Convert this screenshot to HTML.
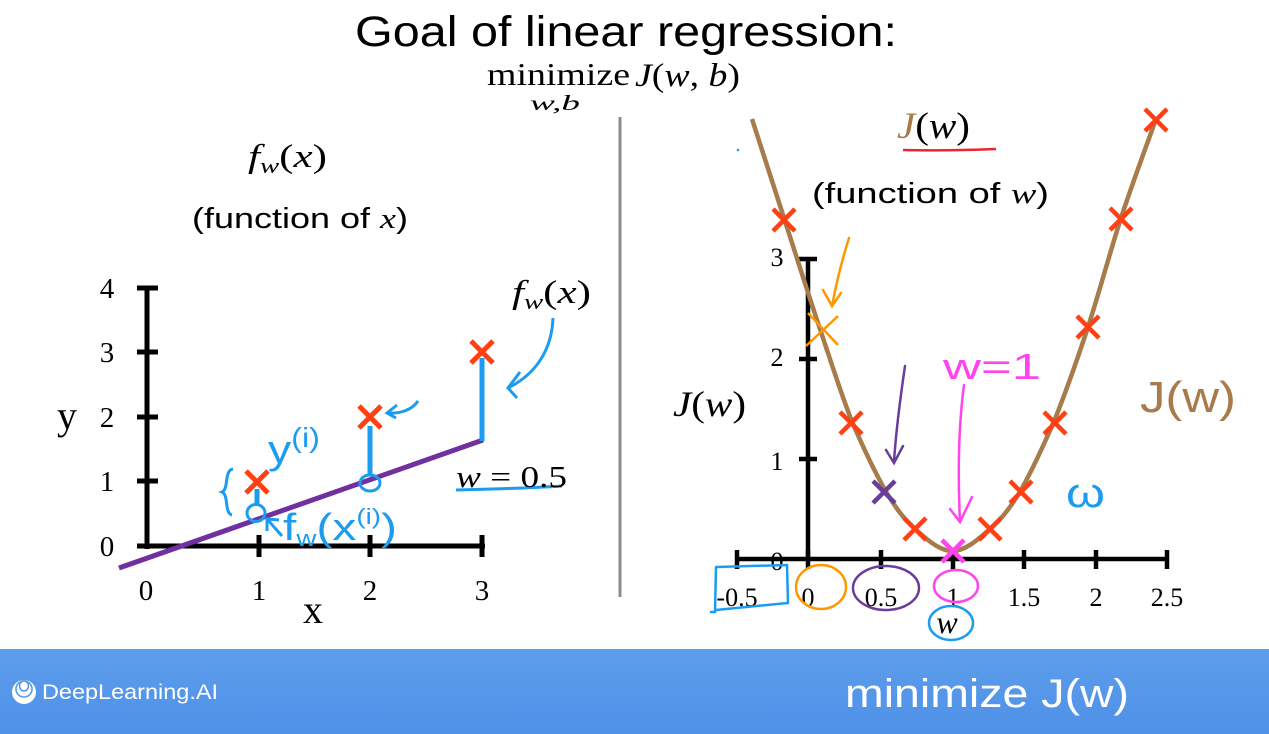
<!DOCTYPE html>
<html>
<head>
<meta charset="utf-8">
<style>
  html,body{margin:0;padding:0;background:#fff;}
  svg{display:block;}
  .serif{font-family:"Liberation Serif","DejaVu Serif",serif;}
  .sans{font-family:"Liberation Sans","DejaVu Sans",sans-serif;}
</style>
</head>
<body>
<svg width="1269" height="734" viewBox="0 0 1269 734" xmlns="http://www.w3.org/2000/svg">
  <defs>
    <linearGradient id="bn" x1="0" y1="0" x2="0" y2="1">
      <stop offset="0" stop-color="#5d9deb"/>
      <stop offset="1" stop-color="#4f91e8"/>
    </linearGradient>
  </defs>
  <rect x="0" y="0" width="1269" height="734" fill="#fff"/>

  <!-- Title -->
  <text x="355" y="46" class="sans" font-size="43" fill="#000" textLength="542" lengthAdjust="spacingAndGlyphs">Goal of linear regression:</text>
  <text x="487" y="85" class="serif" font-size="32" fill="#000" textLength="143" lengthAdjust="spacingAndGlyphs">minimize</text>
  <text x="635" y="86" class="serif" font-size="33" fill="#000" textLength="105" lengthAdjust="spacingAndGlyphs"><tspan font-style="italic">J</tspan>(<tspan font-style="italic">w</tspan>, <tspan font-style="italic">b</tspan>)</text>
  <text x="530" y="110" class="serif" font-size="21" font-style="italic" fill="#000" textLength="50" lengthAdjust="spacingAndGlyphs">w,b</text>

  <!-- Divider -->
  <line x1="620" y1="117" x2="620" y2="597" stroke="#8c8c8c" stroke-width="3"/>

  <!-- ================= LEFT PLOT ================= -->
  <text x="248" y="167" class="serif" font-size="33" font-style="italic" fill="#000" textLength="79" lengthAdjust="spacingAndGlyphs">f<tspan font-size="22" dy="6">w</tspan><tspan dy="-6" font-style="normal">(</tspan>x<tspan font-style="normal">)</tspan></text>
  <text x="192" y="228" class="sans" font-size="29" fill="#000" textLength="216" lengthAdjust="spacingAndGlyphs">(function of <tspan class="serif" font-style="italic">x</tspan>)</text>

  <!-- axes -->
  <g stroke="#000" stroke-width="5" fill="none">
    <line x1="147" y1="286" x2="147" y2="549"/>
    <line x1="137" y1="546" x2="485" y2="546"/>
    <line x1="137" y1="288" x2="158" y2="288"/>
    <line x1="137" y1="352" x2="158" y2="352"/>
    <line x1="137" y1="417" x2="158" y2="417"/>
    <line x1="137" y1="481" x2="158" y2="481"/>
    <line x1="259" y1="535" x2="259" y2="557"/>
    <line x1="370" y1="535" x2="370" y2="557"/>
    <line x1="482" y1="535" x2="482" y2="557"/>
  </g>
  <g class="serif" font-size="29" fill="#000" text-anchor="middle">
    <text x="107" y="298">4</text>
    <text x="107" y="362">3</text>
    <text x="107" y="427">2</text>
    <text x="107" y="491">1</text>
    <text x="107" y="556">0</text>
    <text x="146" y="600">0</text>
    <text x="259" y="600">1</text>
    <text x="370" y="600">2</text>
    <text x="482" y="600">3</text>
  </g>
  <text x="67" y="429" class="serif" font-size="40" fill="#000" text-anchor="middle">y</text>
  <text x="313" y="623" class="serif" font-size="40" fill="#000" text-anchor="middle">x</text>

  <!-- regression line -->
  <line x1="119" y1="568" x2="483" y2="440" stroke="#7030a0" stroke-width="5"/>

  <!-- blue residuals -->
  <g stroke="#1c9cf0" fill="none">
    <line x1="482" y1="358" x2="482" y2="441" stroke-width="5"/>
    <line x1="370" y1="426" x2="370" y2="475" stroke-width="5"/>
    <line x1="257" y1="489" x2="257" y2="505" stroke-width="5"/>
    <ellipse cx="370" cy="483" rx="10" ry="8" stroke-width="3"/>
    <ellipse cx="256" cy="513" rx="9" ry="8.5" stroke-width="3"/>
    <path d="M553 318 C 552 345, 540 372, 508 388" stroke-width="3"/>
    <path d="M520 372 L508 388 L517 398" stroke-width="3"/>
    <path d="M418 401 C 412 410, 400 414, 387 413" stroke-width="3"/>
    <path d="M397 405 L387 413 L396 418" stroke-width="3"/>
    <path d="M282 536 L267 519" stroke-width="3"/>
    <path d="M267 531 L267 519 L279 520" stroke-width="3"/>
    <path d="M233 469 C 224 470, 229 489, 222 492 C 229 495, 224 513, 232 515" stroke-width="3"/>
    <path d="M456 490 C 500 489, 530 488, 562 486" stroke-width="3"/>
  </g>
  <text x="268" y="463" class="sans" font-size="40" fill="#1c9cf0" textLength="52" lengthAdjust="spacingAndGlyphs">y<tspan font-size="28" dy="-16">(i)</tspan></text>
  <text x="283" y="540" class="sans" font-size="38" fill="#1c9cf0" textLength="114" lengthAdjust="spacingAndGlyphs">f<tspan font-size="22" dy="6">w</tspan><tspan dy="-6">(x</tspan><tspan font-size="22" dy="-16">(i)</tspan><tspan dy="16">)</tspan></text>

  <!-- red X markers left -->
  <g stroke="#ff3f14" stroke-width="5" fill="none">
    <path d="M246 471 L268 493 M268 471 L246 493"/>
    <path d="M359 406 L381 428 M381 406 L359 428"/>
    <path d="M471 341 L493 363 M493 341 L471 363"/>
  </g>

  <text x="512" y="303" class="serif" font-size="33" font-style="italic" fill="#000" textLength="79" lengthAdjust="spacingAndGlyphs">f<tspan font-size="22" dy="6">w</tspan><tspan dy="-6" font-style="normal">(</tspan>x<tspan font-style="normal">)</tspan></text>
  <text x="456" y="487" class="serif" font-size="31" fill="#000" textLength="111" lengthAdjust="spacingAndGlyphs"><tspan font-style="italic">w</tspan> = 0.5</text>

  <!-- ================= RIGHT PLOT ================= -->
  <text x="897" y="138" class="serif" font-size="37" fill="#000" textLength="73" lengthAdjust="spacingAndGlyphs"><tspan font-style="italic" fill="#a77b4a">J</tspan>(<tspan font-style="italic">w</tspan>)</text>
  <path d="M903 150 C 940 151, 970 150, 996 149" stroke="#e8262e" stroke-width="2.5" fill="none"/>
  <text x="812" y="203" class="sans" font-size="29" fill="#000" textLength="237" lengthAdjust="spacingAndGlyphs">(function of <tspan class="serif" font-style="italic">w</tspan>)</text>
  <circle cx="738" cy="150" r="1.3" fill="#1c9cf0"/>

  <!-- axes -->
  <g stroke="#000" stroke-width="4.5" fill="none">
    <line x1="808" y1="257" x2="808" y2="561"/>
    <line x1="735" y1="559" x2="1169" y2="559"/>
    <line x1="799" y1="259" x2="817" y2="259"/>
    <line x1="799" y1="359" x2="817" y2="359"/>
    <line x1="799" y1="459" x2="817" y2="459"/>
    <line x1="737" y1="550" x2="737" y2="569"/>
    <line x1="808" y1="550" x2="808" y2="569"/>
    <line x1="881" y1="550" x2="881" y2="569"/>
    <line x1="953" y1="550" x2="953" y2="569"/>
    <line x1="1024" y1="550" x2="1024" y2="569"/>
    <line x1="1096" y1="550" x2="1096" y2="569"/>
    <line x1="1167" y1="550" x2="1167" y2="569"/>
  </g>
  <g class="serif" font-size="26" fill="#000" text-anchor="middle">
    <text x="777" y="266">3</text>
    <text x="777" y="366">2</text>
    <text x="777" y="470">1</text>
    <text x="777" y="570">0</text>
    <text x="737" y="606">-0.5</text>
    <text x="808" y="606">0</text>
    <text x="881" y="606">0.5</text>
    <text x="953" y="606">1</text>
    <text x="1024" y="606">1.5</text>
    <text x="1096" y="606">2</text>
    <text x="1167" y="606">2.5</text>
  </g>
  <text x="947" y="633" class="serif" font-size="32" font-style="italic" fill="#000" text-anchor="middle">w</text>
  <text x="673" y="416" class="serif" font-size="36" fill="#000" textLength="73" lengthAdjust="spacingAndGlyphs"><tspan font-style="italic">J</tspan>(<tspan font-style="italic">w</tspan>)</text>

  <!-- cost curve -->
  <path d="M752 119 C757.3 135.5, 772.7 183, 784 218 C795.3 253, 808.8 295.7, 820 329 C831.2 362.3, 840.2 391.3, 851 419 C861.8 444.7, 874.3 470.8, 885 490 C895.7 508, 903.8 519, 915 529 C926.2 539, 939.5 551, 952.5 551 C965.5 551, 978.5 539, 990 529 C1001.5 519, 1010.2 508, 1021 490 C1031.8 470.8, 1043.8 445, 1055 419 C1066.2 391, 1077 360.3, 1088 327 C1099 293.7, 1109.7 252.7, 1121 218 C1132.3 183.3, 1150.2 135.5, 1156 119" stroke="#a77b4a" stroke-width="4.5" fill="none"/>

  <!-- red X markers right -->
  <g stroke="#ff3f14" stroke-width="4.5" fill="none">
    <path d="M773 209 L795 231 M795 209 L773 231"/>
    <path d="M840 412 L862 434 M862 412 L840 434"/>
    <path d="M904 518 L926 540 M926 518 L904 540"/>
    <path d="M979 518 L1001 540 M1001 518 L979 540"/>
    <path d="M1010 481 L1032 503 M1032 481 L1010 503"/>
    <path d="M1044 412 L1066 434 M1066 412 L1044 434"/>
    <path d="M1077 316 L1099 338 M1099 316 L1077 338"/>
    <path d="M1110 208 L1132 230 M1132 208 L1110 230"/>
    <path d="M1145 109 L1167 131 M1167 109 L1145 131"/>
  </g>
  <path d="M873 481 L895 503 M895 481 L873 503" stroke="#6a3d9a" stroke-width="4.5" fill="none"/>
  <path d="M942 540 L964 562 M964 540 L942 562" stroke="#ff44ee" stroke-width="4.5" fill="none"/>
  <path d="M806 346 L838 316 M808 313 L838 345" stroke="#ff9800" stroke-width="2.5" fill="none"/>

  <!-- annotations -->
  <g fill="none" stroke-width="2.5" stroke-linecap="round">
    <path d="M849 238 C 842 260, 836 285, 832 306" stroke="#ff9800"/>
    <path d="M823 290 L832 306 L841 293" stroke="#ff9800"/>
    <path d="M905 366 C 900 400, 896 430, 894 462" stroke="#6a3d9a"/>
    <path d="M886 450 L894 463 L903 446" stroke="#6a3d9a"/>
    <path d="M964 385 C 958 430, 958 480, 960 522" stroke="#ff44ee"/>
    <path d="M950 509 L960 522 L972 497" stroke="#ff44ee"/>
    <path d="M717 567 L787 565 L788 603 L716 610 M716 567 L715 612 L711 612" stroke="#1c9cf0"/>
    <ellipse cx="821" cy="587" rx="25" ry="22" stroke="#ff9800"/>
    <ellipse cx="886" cy="588" rx="33" ry="22" stroke="#6a3d9a"/>
    <ellipse cx="956" cy="586" rx="22" ry="16" stroke="#ff44ee"/>
    <ellipse cx="951" cy="623" rx="22" ry="17" stroke="#1c9cf0"/>
  </g>
  <text x="943" y="379" class="sans" font-size="36" fill="#ff44ee" textLength="98" lengthAdjust="spacingAndGlyphs">w=1</text>
  <text x="1140" y="412" class="sans" font-size="44" fill="#a77b4a" textLength="96" lengthAdjust="spacingAndGlyphs">J(w)</text>
  <text x="1066" y="507" class="sans" font-size="42" fill="#1c9cf0" textLength="39" lengthAdjust="spacingAndGlyphs">ω</text>

  <!-- ================= BANNER ================= -->
  <rect x="0" y="649" width="1269" height="85" fill="url(#bn)"/>
  <circle cx="24" cy="692" r="12" fill="#fff"/>
  <ellipse cx="24" cy="689" rx="8" ry="8" fill="none" stroke="#5a9aea" stroke-width="1.6"/>
  <ellipse cx="24" cy="686" rx="4.5" ry="5" fill="none" stroke="#5a9aea" stroke-width="1.6"/>
  <text x="42" y="699" class="sans" font-size="21" fill="#fff" textLength="176" lengthAdjust="spacingAndGlyphs">DeepLearning.AI</text>
  <text x="845" y="707" class="sans" font-size="40" fill="#fff" textLength="284" lengthAdjust="spacingAndGlyphs">minimize J(w)</text>
</svg>
</body>
</html>
